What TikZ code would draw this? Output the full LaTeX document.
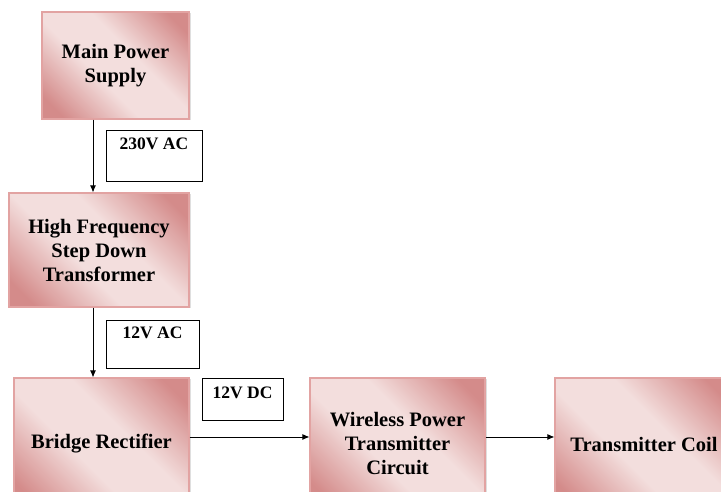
\documentclass[tikz,border=0pt]{standalone}
\usepackage{fontspec}
\setmainfont{Liberation Serif}
\usetikzlibrary{arrows.meta}
\usetikzlibrary{shadows}

\definecolor{pinkdark}{HTML}{D48B8A}
\definecolor{pinklight}{HTML}{F3DEDD}
\definecolor{pinkline}{HTML}{E2A3A2}

\pgfdeclareverticalshading{pinkband}{100bp}{color(0bp)=(pinkdark); color(21bp)=(pinkdark);
  color(42bp)=(pinklight); color(58bp)=(pinklight); color(79bp)=(pinkdark); color(100bp)=(pinkdark)}

\tikzset{
  block/.style={draw=pinkline,line width=1.1pt,shading=pinkband,
    shading angle=-45,
    drop shadow={shadow xshift=1.5pt,shadow yshift=-1.5pt,opacity=0.25},
    align=center,inner sep=0pt,
    font=\bfseries\fontsize{20.5}{24}\selectfont},
  volts/.style={draw,line width=0.9pt,inner xsep=0pt,inner ysep=0pt,
    align=center,font=\bfseries\fontsize{17.5}{20}\selectfont},
  arr/.style={line width=0.9pt,-{Latex[length=7pt,width=6pt]}}
}

\begin{document}
\begin{tikzpicture}[x=1pt,y=1pt]
  \clip (0,0) rectangle (721,492);

  % blocks
  \node[block,minimum width=147pt,minimum height=107pt] (supply) at (115.5,426.5) {Main Power\\Supply};
  \node[block,minimum width=180pt,minimum height=114pt] (trafo) at (99,242) {High Frequency\\Step Down\\Transformer};
  \node[block,minimum width=175pt,minimum height=132pt] (rect) at (101.5,48) {Bridge Rectifier};
  \node[block,minimum width=175pt,minimum height=132pt] (wpt) at (397.5,48) {Wireless Power\\Transmitter\\Circuit};
  \node[block,minimum width=178pt,minimum height=132pt] (coil) at (644,48) {Transmitter Coil};

  % voltage labels
  \node[volts,minimum width=96pt,text height=20pt,text depth=31pt] (acmain) at (154,336.5) {230V AC};
  \node[volts,minimum width=93pt,text height=19pt,text depth=29pt] (aclow) at (152.5,148) {12V AC};
  \node[volts,minimum width=81pt,text height=21pt,text depth=21pt] (dc) at (242.5,93) {12V DC};

  % arrows
  \draw[arr] ([xshift=-22.5pt]supply.south) -- ([xshift=-22.5pt]supply.south |- trafo.north);
  \draw[arr] ([xshift=-6pt]trafo.south) -- ([xshift=-6pt]trafo.south |- rect.north);
  \draw[arr] ([yshift=7pt]rect.east) -- ([yshift=7pt]wpt.west);
  \draw[arr] ([yshift=7pt]wpt.east) -- ([yshift=7pt]coil.west);
\end{tikzpicture}
\end{document}
